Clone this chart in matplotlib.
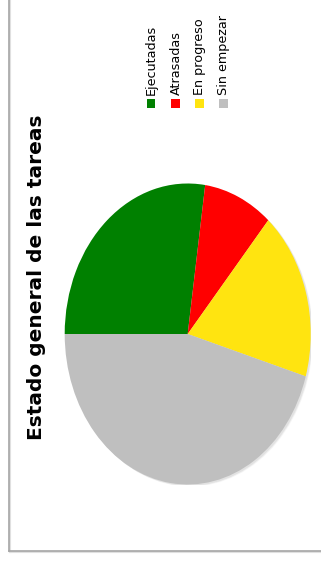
import matplotlib.pyplot as plt
from matplotlib.patches import Ellipse
from matplotlib.lines import Line2D

# estado de las tareas
categorias = ['Ejecutadas', 'Atrasadas', 'En progreso', 'Sin empezar']
tareas = [3, 1, 2, 5]
colores = ['#008000', '#ff0000', '#ffe410', '#bfbfbf']
titulo = 'Estado general de las tareas'

W, H = 321, 561
fig = plt.figure(figsize=(W / 100, H / 100), dpi=100)
fig.patch.set_facecolor('white')

def fx(px):
    return px / W

def fy(py):
    return 1 - py / H

# marco del grafico (solo se ven el borde izquierdo y el inferior)
for off, col, lw in [(1.2, '#e0e0e0', 1.5), (0, '#a6a6a6', 1.2)]:
    fig.add_artist(Line2D([fx(8.5 + off), fx(8.5 + off)], [fy(0), fy(550.5 + off)],
                          color=col, lw=lw, transform=fig.transFigure))
    fig.add_artist(Line2D([fx(8.5 + off), fx(W + 5)], [fy(550.5 + off), fy(550.5 + off)],
                          color=col, lw=lw, transform=fig.transFigure))

# torta girada: eje horizontal 123 px, vertical 150 px
cx, cy, rx, ry = 187.7, 334.0, 123.0, 150.5
ax = fig.add_axes([fx(cx - rx), fy(cy + ry), fx(2 * rx), (2 * ry) / H])

# sombra suave
for i, a in enumerate([0.10, 0.08, 0.06]):
    ax.add_patch(Ellipse((0.012 + i * 0.004, -0.008 - i * 0.003), 2.0, 2.0,
                         facecolor='#808080', edgecolor='none', alpha=a, zorder=0))

ax.pie(tareas, colors=colores, startangle=180, counterclock=False,
       radius=1.0, wedgeprops=dict(edgecolor='none', linewidth=0))
ax.set_aspect('auto')
ax.set_xlim(-1, 1)
ax.set_ylim(-1, 1)
ax.axis('off')

# titulo vertical
fig.text(fx(37), fy(277), titulo, rotation=90, ha='center', va='center',
         fontsize=14.5, fontweight='bold', family='DejaVu Sans', color='black')

# leyenda vertical
xs_leyenda = [151, 175.5, 199.5, 223.5]
for x, nombre, col in zip(xs_leyenda, categorias, colores):
    fig.patches.append(plt.Rectangle((fx(x - 4.2), fy(107.5)), 8.4 / W, 8.4 / H,
                                     facecolor=col, edgecolor='none',
                                     transform=fig.transFigure, figure=fig))
    fig.text(fx(x + 0.5), fy(95.5), nombre, rotation=90, ha='center', va='bottom',
             fontsize=9.2, family='DejaVu Sans', color='black')

fig.savefig('out.png', dpi=100)
